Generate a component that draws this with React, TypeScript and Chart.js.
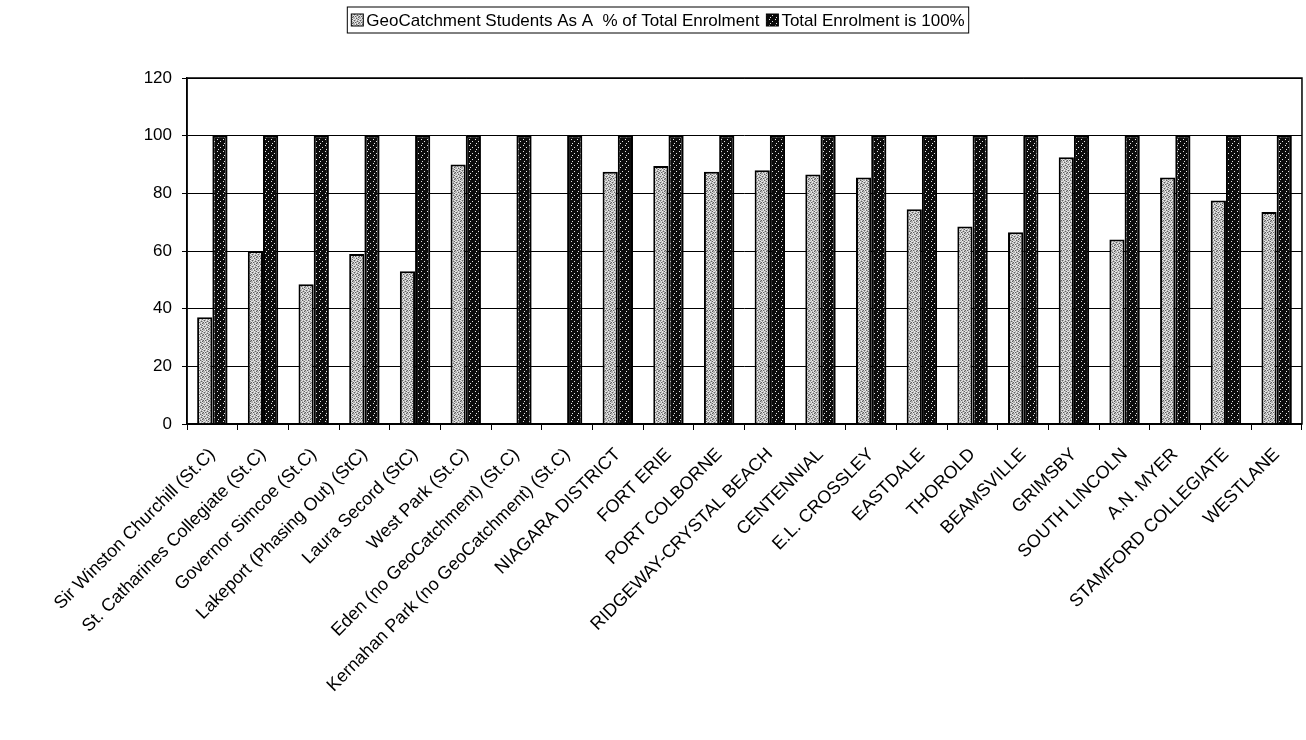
import React, { useEffect, useRef } from 'react';
import { Chart, registerables } from 'chart.js';

Chart.register(...registerables);

const categories = [
  'Sir Winston Churchill (St.C)',
  'St. Catharines Collegiate (St.C)',
  'Governor Simcoe (St.C)',
  'Lakeport (Phasing Out) (StC)',
  'Laura Secord (StC)',
  'West Park (St.C)',
  'Eden (no GeoCatchment) (St.C)',
  'Kernahan Park (no GeoCatchment) (St.C)',
  'NIAGARA DISTRICT',
  'FORT ERIE',
  'PORT COLBORNE',
  'RIDGEWAY-CRYSTAL BEACH',
  'CENTENNIAL',
  'E.L. CROSSLEY',
  'EASTDALE',
  'THOROLD',
  'BEAMSVILLE',
  'GRIMSBY',
  'SOUTH LINCOLN',
  'A.N. MYER',
  'STAMFORD COLLEGIATE',
  'WESTLANE',
];

const geoCatchmentPct = [37, 60, 48.5, 59, 53, 90, 0, 0, 87.5, 89.5, 87.5, 88, 86.5, 85.5, 74.5, 68.5, 66.5, 92.5, 64, 85.5, 77.5, 73.5];
const totalEnrolmentPct = [100, 100, 100, 100, 100, 100, 100, 100, 100, 100, 100, 100, 100, 100, 100, 100, 100, 100, 100, 100, 100, 100];

const seriesNames = ['GeoCatchment Students As A  % of Total Enrolment', 'Total Enrolment is 100%'];
const yMin = 0;
const yMax = 120;
const yStep = 20;

const FONT = '"Liberation Sans", Arial, sans-serif';

const GRAY_MAP = [
  'gwdgwg',
  'wgwgdw',
  'dgwgwg',
  'gwgdgw',
  'wdgwgd',
  'gwgwdg',
];
const BLACK_MAP = [
  'kkkkkk',
  'kwkkkk',
  'kkkkkk',
  'kkkkwk',
  'kkkkkk',
  'kkwkkk',
];
const PIX: Record<string, string> = {
  w: '#e6e6e6',
  g: '#b0b0b0',
  d: '#606060',
  k: '#0c0c0c',
};

function makePattern(map: string[]): CanvasPattern | string {
  const c = document.createElement('canvas');
  c.width = map[0].length;
  c.height = map.length;
  const ctx = c.getContext('2d');
  if (!ctx) return '#888';
  for (let y = 0; y < map.length; y++) {
    for (let x = 0; x < map[y].length; x++) {
      ctx.fillStyle = PIX[map[y][x]];
      ctx.fillRect(x, y, 1, 1);
    }
  }
  const p = ctx.createPattern(c, 'repeat');
  return p || '#888';
}

const frameAndLegend = {
  id: 'frameAndLegend',
  afterDraw(chart: any) {
    const { ctx, chartArea } = chart;
    ctx.save();
    ctx.strokeStyle = '#000';
    ctx.lineWidth = 1.5;
    ctx.strokeRect(chartArea.left, chartArea.top, chartArea.right - chartArea.left, chartArea.bottom - chartArea.top);

    // legend
    ctx.font = `17px ${FONT}`;
    ctx.textBaseline = 'middle';
    const box = 12;
    const padX = 4;
    const gapBoxText = 3;
    const gapItems = 7;
    const widths = seriesNames.map((n) => ctx.measureText(n).width);
    const total = padX * 2 + widths.reduce((a, w) => a + box + gapBoxText + w, 0) + gapItems * (seriesNames.length - 1);
    const cx = 658;
    const left = cx - total / 2;
    const top = 7;
    const h = 26;
    ctx.lineWidth = 1;
    ctx.strokeStyle = '#000';
    ctx.strokeRect(left, top, total, h);
    let x = left + padX;
    const cy = top + h / 2;
    seriesNames.forEach((name, i) => {
      const ds = chart.data.datasets[i];
      ctx.fillStyle = ds.backgroundColor;
      ctx.fillRect(x, cy - box / 2, box, box);
      ctx.strokeRect(x, cy - box / 2, box, box);
      x += box + gapBoxText;
      ctx.fillStyle = '#000';
      ctx.fillText(name, x, cy + 1);
      x += widths[i] + gapItems;
    });
    ctx.restore();
  },
};

export default function App() {
  const canvasRef = useRef<HTMLCanvasElement | null>(null);

  useEffect(() => {
    const canvas = canvasRef.current;
    if (!canvas) return;
    const grayPattern = makePattern(GRAY_MAP);
    const blackPattern = makePattern(BLACK_MAP);
    const chart = new Chart(canvas, {
      type: 'bar',
      data: {
        labels: categories,
        datasets: [
          {
            label: seriesNames[0],
            data: geoCatchmentPct,
            backgroundColor: grayPattern as any,
            borderColor: '#000',
            borderWidth: 2,
            barPercentage: 1,
            categoryPercentage: 0.6,
          },
          {
            label: seriesNames[1],
            data: totalEnrolmentPct,
            backgroundColor: blackPattern as any,
            borderColor: '#000',
            borderWidth: 2,
            barPercentage: 1,
            categoryPercentage: 0.6,
          },
        ],
      },
      options: {
        animation: false,
        responsive: false,
        maintainAspectRatio: false,
        layout: { padding: { top: 78, left: 0, right: 4, bottom: 0 } },
        plugins: {
          legend: { display: false },
          tooltip: { enabled: false },
        },
        scales: {
          x: {
            offset: true,
            grid: {
              display: true,
              offset: true,
              drawOnChartArea: false,
              drawTicks: true,
              tickLength: 6,
              color: '#000',
            },
            border: { color: '#000', width: 1.5 },
            ticks: {
              color: '#000',
              font: { family: FONT, size: 18 },
              minRotation: 45,
              maxRotation: 45,
              autoSkip: false,
              padding: 14,
            },
            afterFit: (s: any) => {
              s.height = 316;
            },
          },
          y: {
            min: yMin,
            max: yMax,
            ticks: {
              stepSize: yStep,
              color: '#000',
              font: { family: FONT, size: 17 },
              padding: 10,
            },
            grid: { color: '#000', lineWidth: 1, tickLength: 5, drawTicks: true },
            border: { color: '#000', width: 1.5 },
            afterFit: (s: any) => {
              s.width = 187;
            },
          },
        },
      },
      plugins: [frameAndLegend],
    });
    return () => chart.destroy();
  }, []);

  return (
    <div style={{ position: 'absolute', left: 0, top: 0, width: 1306, height: 740, background: '#fff' }}>
      <canvas ref={canvasRef} width={1306} height={740} style={{ display: 'block' }} />
    </div>
  );
}
